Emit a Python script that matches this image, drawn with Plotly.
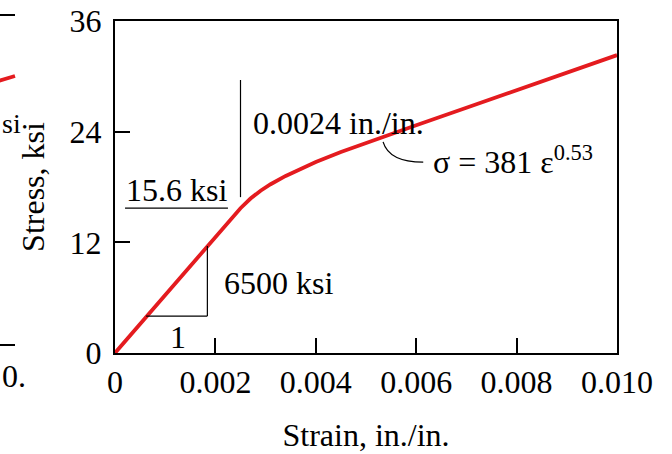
import plotly.graph_objects as go

# Data
strain = [0, 0.0025, 0.0027, 0.0029, 0.0031, 0.0034, 0.0037, 0.004, 0.0045,
          0.005, 0.0055, 0.006, 0.007, 0.008, 0.009, 0.010]
stress = [0, 15.7, 16.75, 17.6, 18.3, 19.2, 19.95, 20.7, 21.8,
          22.8, 23.75, 24.7, 26.6, 28.5, 30.4, 32.3]

x_ticks = [0, 0.002, 0.004, 0.006, 0.008, 0.010]
x_tick_labels = ["0", "0.002", "0.004", "0.006", "0.008", "0.010"]
y_ticks = [0, 12, 24, 36]
y_tick_labels = ["0", "12", "24", "36"]

FONT = "Liberation Serif"
FS = 32
RED = "#e41b1f"

fig = go.Figure()
fig.add_trace(go.Scatter(x=strain, y=stress, mode="lines",
                         line=dict(color=RED, width=3.8), showlegend=False,
                         hoverinfo="skip"))

W, H = 672, 454
L, R, T, B = 115, 55, 21, 101
pw, ph = W - L - R, H - T - B


def px(xp):
    return (xp - L) / pw


def py(yp):
    return (H - B - yp) / ph


shapes = []
thin = dict(color="black", width=1.2)
# 15.6 ksi underline
shapes.append(dict(type="line", xref="x", yref="y", x0=0.0002, x1=0.00225,
                   y0=15.7, y1=15.7, line=thin))
# vertical line at yield strain
shapes.append(dict(type="line", xref="x", yref="y", x0=0.0025, x1=0.0025,
                   y0=16.9, y1=29.6, line=thin))
# slope triangle
shapes.append(dict(type="line", xref="x", yref="y", x0=0.00062, x1=0.00184,
                   y0=4.0, y1=4.0, line=thin))
shapes.append(dict(type="line", xref="x", yref="y", x0=0.00184, x1=0.00184,
                   y0=4.0, y1=11.6, line=thin))
# leader to the equation
shapes.append(dict(type="path", xref="x", yref="y",
                   path="M 0.00534,22.9 Q 0.00546,20.7 0.00614,20.7",
                   line=thin))
# fragment of neighbouring figure on the left
shapes.append(dict(type="line", xref="paper", yref="paper", x0=px(-2), x1=px(15),
                   y0=py(15), y1=py(15), line=dict(color="black", width=2)))
shapes.append(dict(type="line", xref="paper", yref="paper", x0=px(-2), x1=px(15),
                   y0=py(345), y1=py(345), line=dict(color="black", width=2)))
shapes.append(dict(type="line", xref="paper", yref="paper", x0=px(-2), x1=px(15),
                   y0=py(81), y1=py(76), line=dict(color=RED, width=3.8)))

font = dict(family=FONT, size=FS, color="black")
ann = []
ann.append(dict(x=0.00123, y=17.7, xref="x", yref="y", text="15.6 ksi",
                showarrow=False, font=font, xanchor="center", yanchor="middle"))
ann.append(dict(x=0.00446, y=24.9, xref="x", yref="y", text="0.0024 in./in.",
                showarrow=False, font=font, xanchor="center", yanchor="middle"))
ann.append(dict(x=0.00630, y=20.9, xref="x", yref="y",
                text="σ = 381 ε<sup>0.53</sup>",
                showarrow=False, font=font, xanchor="left", yanchor="middle"))
ann.append(dict(x=0.00325, y=7.6, xref="x", yref="y", text="6500 ksi",
                showarrow=False, font=font, xanchor="center", yanchor="middle"))
ann.append(dict(x=0.00125, y=1.7, xref="x", yref="y", text="1",
                showarrow=False, font=font, xanchor="center", yanchor="middle"))
# fragment texts of the neighbouring figure
ann.append(dict(x=px(0), y=py(123), xref="paper", yref="paper", text="si",
                showarrow=False, font=dict(family=FONT, size=28, color="black"),
                xanchor="left", yanchor="middle"))
ann.append(dict(x=px(0), y=py(376), xref="paper", yref="paper", text="0.",
                showarrow=False, font=font, xanchor="left", yanchor="middle"))

axis_common = dict(showline=True, linecolor="black", linewidth=2, mirror=True,
                   ticks="inside", ticklen=15, tickcolor="black", tickwidth=1.5,
                   showgrid=False, zeroline=False, automargin=False,
                   tickfont=dict(family=FONT, size=FS, color="black"))

fig.update_layout(
    width=W, height=H,
    margin=dict(l=L, r=R, t=T, b=B, pad=0),
    paper_bgcolor="white", plot_bgcolor="white",
    xaxis=dict(range=[0, 0.010], tickvals=x_ticks, ticktext=x_tick_labels,
               title=dict(text="Strain, in./in.", standoff=24,
                          font=dict(family=FONT, size=FS, color="black")),
               **axis_common),
    yaxis=dict(range=[0, 36], tickvals=y_ticks, ticktext=y_tick_labels,
               ticklabelstandoff=5,
               title=dict(text="Stress, ksi", standoff=15,
                          font=dict(family=FONT, size=FS, color="black")),
               **axis_common),
    shapes=shapes, annotations=ann,
)

fig.write_html("out.html",
               config={"displayModeBar": False},
               post_script="document.body.style.margin='0';"
                           "document.body.style.overflow='hidden';")
